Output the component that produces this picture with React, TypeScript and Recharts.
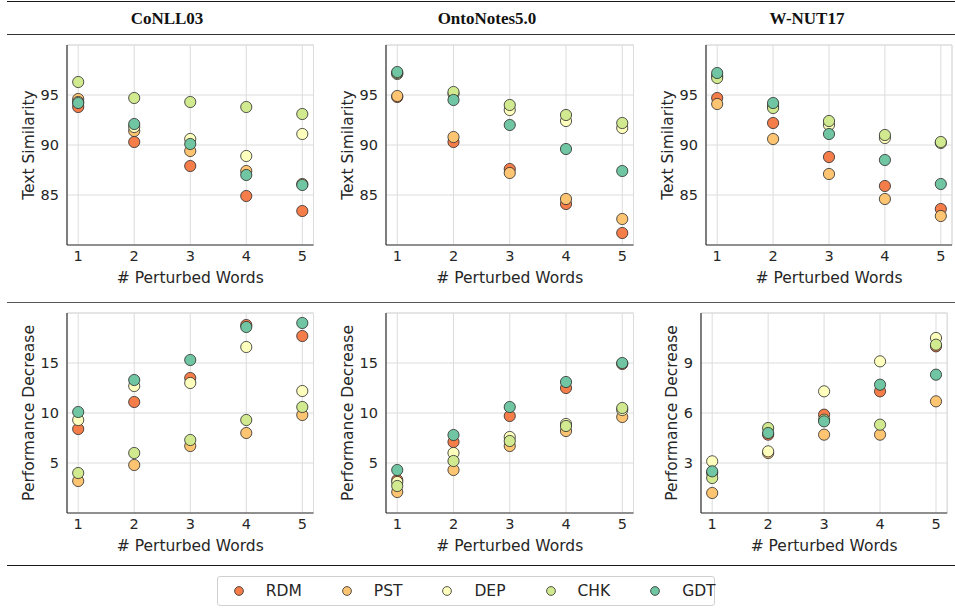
import React from 'react';
import { ScatterChart, Scatter, XAxis, YAxis, CartesianGrid, ReferenceLine } from 'recharts';

const perturbedWords = [1, 2, 3, 4, 5];
const seriesNames = ['RDM', 'PST', 'DEP', 'CHK', 'GDT'];
const seriesColors = ['#f47d4a', '#fdc472', '#fefebd', '#d1ea8f', '#70c5a2'];

const datasetTitles = ['CoNLL03', 'OntoNotes5.0', 'W-NUT17'];

// rows follow seriesNames: RDM, PST, DEP, CHK, GDT
const conllSimilarity = [
  [93.8, 90.3, 87.9, 84.9, 83.4],
  [94.6, 91.4, 89.4, 87.4, 86.1],
  [94.3, 91.8, 90.6, 88.9, 91.1],
  [96.3, 94.7, 94.3, 93.8, 93.1],
  [94.2, 92.1, 90.1, 87.0, 86.0],
];
const ontoSimilarity = [
  [94.8, 90.3, 87.6, 84.1, 81.2],
  [94.9, 90.8, 87.2, 84.6, 82.6],
  [97.1, 95.1, 93.5, 92.4, 91.7],
  [97.2, 95.3, 94.0, 93.0, 92.2],
  [97.3, 94.5, 92.0, 89.6, 87.4],
];
const wnutSimilarity = [
  [94.7, 92.2, 88.8, 85.9, 83.6],
  [94.1, 90.6, 87.1, 84.6, 82.9],
  [96.9, 93.9, 92.0, 90.7, 90.2],
  [96.7, 93.7, 92.4, 91.0, 90.3],
  [97.2, 94.2, 91.1, 88.5, 86.1],
];
const conllDecrease = [
  [8.4, 11.1, 13.5, 18.8, 17.7],
  [3.2, 4.8, 6.7, 8.0, 9.8],
  [9.3, 12.7, 13.0, 16.6, 12.2],
  [4.0, 6.0, 7.3, 9.3, 10.6],
  [10.1, 13.3, 15.3, 18.6, 19.0],
];
const ontoDecrease = [
  [3.3, 7.1, 9.7, 12.5, 14.9],
  [2.1, 4.3, 6.7, 8.2, 9.6],
  [3.1, 6.0, 7.6, 8.9, 10.3],
  [2.7, 5.2, 7.2, 8.7, 10.5],
  [4.3, 7.8, 10.6, 13.1, 15.0],
];
const wnutDecrease = [
  [2.4, 4.7, 5.9, 7.3, 10.0],
  [1.2, 3.6, 4.7, 4.7, 6.7],
  [3.1, 3.7, 7.3, 9.1, 10.5],
  [2.1, 5.1, 5.6, 5.3, 10.1],
  [2.5, 4.8, 5.5, 7.7, 8.3],
];

const similarityTicks = [85, 90, 95];
const decreaseTicks = [5, 10, 15];
const wnutDecreaseTicks = [3, 6, 9];

const font = '"DejaVu Sans", sans-serif';
const textColor = '#262626';

interface PanelProps {
  values: number[][];
  left: number;
  top: number;
  plotWidth: number;
  yDomain: [number, number];
  yTicks: number[];
  yLabel: string;
  yLabelOffset: number;
}

const Dot = (props: any) => {
  const { cx, cy, fill } = props;
  if (cx == null || cy == null) return null;
  return <circle cx={cx} cy={cy} r={5.6} fill={fill} stroke="#2b2b2b" strokeWidth={0.8} />;
};

const Panel: React.FC<PanelProps> = ({ values, left, top, plotWidth, yDomain, yTicks, yLabel, yLabelOffset }) => {
  const plotHeight = 200;
  const axisW = 60;
  return (
    <div style={{ position: 'absolute', left: left - axisW, top: top - 5 }}>
      <ScatterChart
        width={plotWidth + axisW + 5}
        height={plotHeight + 55}
        margin={{ top: 5, right: 5, bottom: 0, left: 0 }}
      >
        <CartesianGrid stroke="#dcdcdc" strokeWidth={1} />
        <XAxis
          type="number"
          dataKey="x"
          domain={[0.8, 5.2]}
          ticks={perturbedWords}
          height={50}
          tickLine={false}
          tickMargin={0}
          axisLine={{ stroke: '#333', strokeWidth: 1.2 }}
          tick={{ fontSize: 14.5, fill: textColor, fontFamily: font }}
          label={{ value: '# Perturbed Words', position: 'insideBottom', offset: 12, style: { fontSize: 15.5, fill: textColor, fontFamily: font } }}
        />
        <YAxis
          type="number"
          dataKey="y"
          domain={yDomain}
          ticks={yTicks}
          width={axisW}
          tickLine={false}
          axisLine={{ stroke: '#333', strokeWidth: 1.2 }}
          tick={{ fontSize: 14.5, fill: textColor, fontFamily: font }}
          label={{ value: yLabel, angle: -90, position: 'insideLeft', offset: yLabelOffset, style: { textAnchor: 'middle', fontSize: 15.5, fill: textColor, fontFamily: font } }}
        />
        <ReferenceLine y={yDomain[1]} stroke="#dcdcdc" strokeWidth={1} />
        <ReferenceLine x={5.2} stroke="#dcdcdc" strokeWidth={1} />
        {seriesNames.map((name, s) => (
          <Scatter
            key={name}
            name={name}
            data={perturbedWords.map((x, i) => ({ x, y: values[s][i] }))}
            fill={seriesColors[s]}
            shape={<Dot />}
            isAnimationActive={false}
          />
        ))}
      </ScatterChart>
    </div>
  );
};

const Rule = ({ top, weight, color }: { top: number; weight: number; color: string }) => (
  <div style={{ position: 'absolute', left: 7, top, width: 948, borderTop: `${weight}px solid ${color}` }} />
);

export default function App() {
  return (
    <div style={{ position: 'absolute', left: 0, top: 0, width: 955, height: 616, background: '#fff', overflow: 'hidden' }}>
      <Rule top={1} weight={1.5} color="#1a1a1a" />
      <Rule top={33.5} weight={1.5} color="#333" />
      <Rule top={301.5} weight={1.3} color="#555" />
      <Rule top={565} weight={1.5} color="#1a1a1a" />

      {datasetTitles.map((t, i) => (
        <div
          key={t}
          style={{
            position: 'absolute', left: 7 + i * 320, top: 9, width: 320, textAlign: 'center',
            fontFamily: '"Liberation Serif", "Times New Roman", serif', fontWeight: 'bold', fontSize: 17, lineHeight: '20px', color: '#111',
          }}
        >
          {t}
        </div>
      ))}

      <Panel values={conllSimilarity} left={66.7} top={45} plotWidth={246.5} yDomain={[80, 100]} yTicks={similarityTicks} yLabel="Text Similarity" yLabelOffset={21} />
      <Panel values={ontoSimilarity} left={385.7} top={45} plotWidth={247.5} yDomain={[80, 100]} yTicks={similarityTicks} yLabel="Text Similarity" yLabelOffset={21} />
      <Panel values={wnutSimilarity} left={705.7} top={45} plotWidth={246} yDomain={[80, 100]} yTicks={similarityTicks} yLabel="Text Similarity" yLabelOffset={21} />
      <Panel values={conllDecrease} left={66.7} top={312.5} plotWidth={246.5} yDomain={[0, 20]} yTicks={decreaseTicks} yLabel="Performance Decrease" yLabelOffset={21} />
      <Panel values={ontoDecrease} left={385.7} top={312.5} plotWidth={247.5} yDomain={[0, 20]} yTicks={decreaseTicks} yLabel="Performance Decrease" yLabelOffset={21} />
      <Panel values={wnutDecrease} left={701.3} top={312.5} plotWidth={246.2} yDomain={[0, 12]} yTicks={wnutDecreaseTicks} yLabel="Performance Decrease" yLabelOffset={31} />

      <div
        style={{
          position: 'absolute', left: 216.7, top: 576, width: 498, height: 30, boxSizing: 'border-box',
          border: '1px solid #d0d0d0', borderRadius: 3, display: 'flex', alignItems: 'center', paddingLeft: 16,
          fontFamily: font, fontSize: 15.5, color: textColor,
        }}
      >
        {seriesNames.map((name, s) => (
          <div key={name} style={{ display: 'flex', alignItems: 'center', marginRight: 40 }}>
            <svg width={10} height={10} style={{ display: 'block' }}>
              <circle cx={5} cy={5} r={4.4} fill={seriesColors[s]} stroke="#2b2b2b" strokeWidth={0.8} />
            </svg>
            <span style={{ marginLeft: 22 }}>{name}</span>
          </div>
        ))}
      </div>
    </div>
  );
}
